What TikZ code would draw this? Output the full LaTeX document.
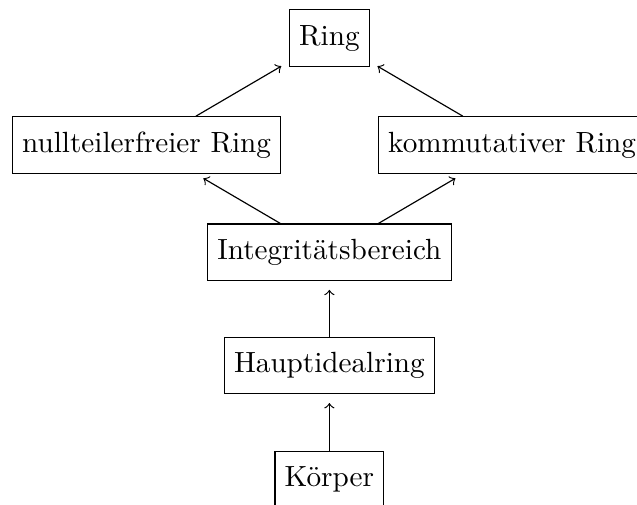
\documentclass[tikz,border=0pt]{standalone}
\usepackage{tikz}

\begin{document}
\begin{tikzpicture}[x=1cm,y=1cm,
      b/.style={draw,minimum height=6.8mm,line width=0.4pt},
      up/.style={->,shorten >=3pt}]
    \useasboundingbox (-3.965,-3.031) rectangle (3.703,3.036);
    \node[b] (ring) at (0,2.578) {Ring};
    \node[b] (nt) at (-2.2,1.29) {nullteilerfreier Ring};
    \node[b] (kr) at (2.2,1.29) {kommutativer Ring};
    \node[b] (ib) at (0,0) {Integritätsbereich};
    \node[b] (hr) at (0,-1.363) {Hauptidealring};
    \node[b] (kp) at (0,-2.739) {Körper};
    \foreach \p/\q in {nt/ring,kr/ring,ib/nt,ib/kr,hr/ib,kp/hr}
      \draw[up] (\p) -- (\q);
  \end{tikzpicture}
\end{document}
